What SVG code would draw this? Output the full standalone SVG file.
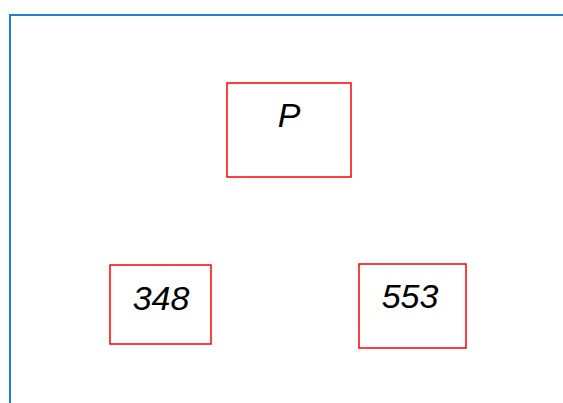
<svg xmlns="http://www.w3.org/2000/svg" width="563" height="403" viewBox="0 0 563 403">
<style>
.node rect{fill:#fff;stroke:#ff0000;stroke-width:1.5}
.node text{font-family:"Liberation Sans",Arial,sans-serif;font-style:italic;font-size:34px;fill:#000;text-anchor:middle}
</style>
<rect width="563" height="403" fill="#fff"/>
<path d="M10 403V15H563" fill="none" stroke="#1f7fd6" stroke-width="2"/>
<g id="connectors"></g>
<g id="nodeP" class="node"><rect x="227" y="83" width="124" height="94"/><text x="289" y="127">P</text></g>
<g id="node348" class="node"><rect x="110" y="265" width="101" height="79"/><text x="161" y="310">348</text></g>
<g id="node553" class="node"><rect x="359" y="264" width="107" height="84"/><text x="410" y="308">553</text></g>
</svg>
